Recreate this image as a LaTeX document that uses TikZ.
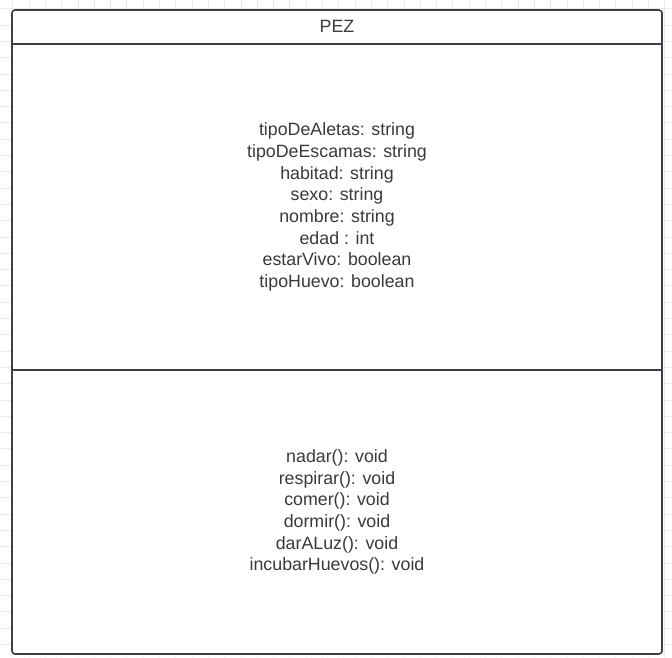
\documentclass[tikz,border=0pt]{standalone}
\usepackage{fontspec}
\setmainfont{Liberation Sans}
\usetikzlibrary{positioning}

\definecolor{umlline}{HTML}{3C3F46}
\definecolor{umltext}{HTML}{3A3A3A}
\definecolor{gridline}{HTML}{EBEBEB}

\tikzset{
	classbox/.style={draw=umlline, line width=1.6pt, fill=white, rounded corners=3pt,
		minimum width=650pt, minimum height=644pt, inner sep=0pt},
	member/.style={text=umltext, align=center, font=\fontsize{17.8}{21.7}\selectfont},
	divider/.style={draw=umlline, line width=1.6pt}
}

\begin{document}
\begin{tikzpicture}[x=1pt, y=-1pt]
			\useasboundingbox (0,0) rectangle (672,657);
			% background grid
			\foreach \i in {0,...,41}
				\draw[gridline, line width=0.8pt] (12.7+\i*16.3-16.3,0) -- (12.7+\i*16.3-16.3,657);
			\foreach \j in {0,...,41}
				\draw[gridline, line width=0.8pt] (0,8.7+\j*16.3) -- (672,8.7+\j*16.3);

			\node (pez) [classbox] at (337,332) {};
			\coordinate (headL) at (12,44);
			\coordinate (headR) at (662,44);
			\coordinate (sepL) at (12,370);
			\coordinate (sepR) at (662,370);
			\path[divider] (headL) -- (headR);
			\path[divider] (sepL) -- (sepR);

			\node (title) [member] at (337,26) {PEZ};
			\node (attrs) [member] at (337,207) {tipoDeAletas: string\\tipoDeEscamas: string\\habitad: string\\sexo: string\\nombre: string\\edad : int\\estarVivo: boolean\\tipoHuevo: boolean};
			\node (ops) [member] at (337,512) {nadar(): void\\respirar(): void\\comer(): void\\dormir(): void\\darALuz(): void\\incubarHuevos(): void};
		\end{tikzpicture}
\end{document}
